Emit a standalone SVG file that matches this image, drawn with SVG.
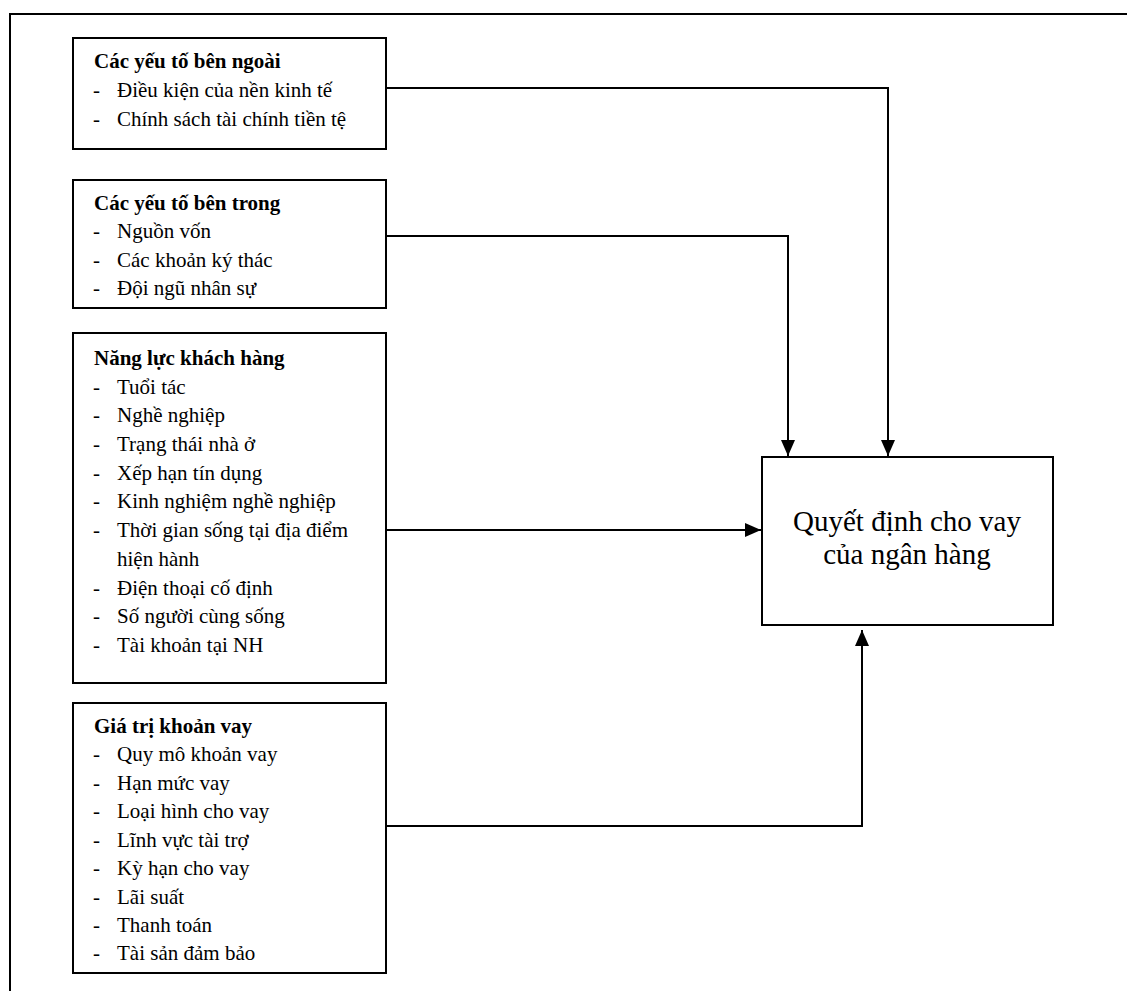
<svg xmlns="http://www.w3.org/2000/svg" width="1127" height="991" viewBox="0 0 1127 991">
  <style>
    .frame { fill: none; stroke: #000; stroke-width: 2; }
    .box { fill: #fff; stroke: #000; stroke-width: 2; }
    .link { fill: none; stroke: #000; stroke-width: 2; }
    text { font-family: "Liberation Serif", "Times New Roman", serif; fill: #000; }
    .title { font-size: 21px; font-weight: bold; }
    .item { font-size: 21px; }
    .main { font-size: 29px; text-anchor: middle; }
  </style>
  <defs>
    <marker id="arrow" markerUnits="userSpaceOnUse" markerWidth="16" markerHeight="14" refX="16" refY="7" orient="auto">
      <path d="M0,0 L16,7 L0,14 Z" fill="#000"/>
    </marker>
  </defs>

  <rect class="frame" x="10" y="14" width="1130" height="990"/>

  <!-- connectors -->
  <g id="connectors">
    <path class="link" d="M386,88 H888 V456" marker-end="url(#arrow)"/>
    <path class="link" d="M386,236 H788 V456" marker-end="url(#arrow)"/>
    <path class="link" d="M386,530 H761" marker-end="url(#arrow)"/>
    <path class="link" d="M386,826 H862 V630" marker-end="url(#arrow)"/>
  </g>

  <!-- external factors -->
  <g id="external">
    <rect class="box" x="73" y="38" width="313" height="111"/>
    <text class="title" x="94" y="68">Các yếu tố bên ngoài</text>
    <text class="item" x="93" y="97">-</text>
    <text class="item" x="117" y="97">Điều kiện của nền kinh tế</text>
    <text class="item" x="93" y="126">-</text>
    <text class="item" x="117" y="126">Chính sách tài chính tiền tệ</text>
  </g>

  <!-- internal factors -->
  <g id="internal">
    <rect class="box" x="73" y="180" width="313" height="128"/>
    <text class="title" x="94" y="210">Các yếu tố bên trong</text>
    <text class="item" x="93" y="238">-</text>
    <text class="item" x="117" y="238">Nguồn vốn</text>
    <text class="item" x="93" y="267">-</text>
    <text class="item" x="117" y="267">Các khoản ký thác</text>
    <text class="item" x="93" y="295">-</text>
    <text class="item" x="117" y="295">Đội ngũ nhân sự</text>
  </g>

  <!-- customer capacity -->
  <g id="customer">
    <rect class="box" x="73" y="333" width="313" height="350"/>
    <text class="title" x="94" y="365">Năng lực khách hàng</text>
    <text class="item" x="93" y="394">-</text>
    <text class="item" x="117" y="394">Tuổi tác</text>
    <text class="item" x="93" y="422">-</text>
    <text class="item" x="117" y="422">Nghề nghiệp</text>
    <text class="item" x="93" y="451">-</text>
    <text class="item" x="117" y="451">Trạng thái nhà ở</text>
    <text class="item" x="93" y="480">-</text>
    <text class="item" x="117" y="480">Xếp hạn tín dụng</text>
    <text class="item" x="93" y="508">-</text>
    <text class="item" x="117" y="508">Kinh nghiệm nghề nghiệp</text>
    <text class="item" x="93" y="537">-</text>
    <text class="item" x="117" y="537">Thời gian sống tại địa điểm</text>
    <text class="item" x="117" y="566">hiện hành</text>
    <text class="item" x="93" y="595">-</text>
    <text class="item" x="117" y="595">Điện thoại cố định</text>
    <text class="item" x="93" y="623">-</text>
    <text class="item" x="117" y="623">Số người cùng sống</text>
    <text class="item" x="93" y="652">-</text>
    <text class="item" x="117" y="652">Tài khoản tại NH</text>
  </g>

  <!-- loan value -->
  <g id="loan">
    <rect class="box" x="73" y="703" width="313" height="270"/>
    <text class="title" x="94" y="733">Giá trị khoản vay</text>
    <text class="item" x="93" y="761">-</text>
    <text class="item" x="117" y="761">Quy mô khoản vay</text>
    <text class="item" x="93" y="790">-</text>
    <text class="item" x="117" y="790">Hạn mức vay</text>
    <text class="item" x="93" y="818">-</text>
    <text class="item" x="117" y="818">Loại hình cho vay</text>
    <text class="item" x="93" y="847">-</text>
    <text class="item" x="117" y="847">Lĩnh vực tài trợ</text>
    <text class="item" x="93" y="875">-</text>
    <text class="item" x="117" y="875">Kỳ hạn cho vay</text>
    <text class="item" x="93" y="904">-</text>
    <text class="item" x="117" y="904">Lãi suất</text>
    <text class="item" x="93" y="932">-</text>
    <text class="item" x="117" y="932">Thanh toán</text>
    <text class="item" x="93" y="960">-</text>
    <text class="item" x="117" y="960">Tài sản đảm bảo</text>
  </g>

  <!-- lending decision -->
  <g id="decision">
    <rect class="box" x="762" y="457" width="291" height="168"/>
    <text class="main" x="907" y="531">Quyết định cho vay</text>
    <text class="main" x="907" y="564">của ngân hàng</text>
  </g>
</svg>
